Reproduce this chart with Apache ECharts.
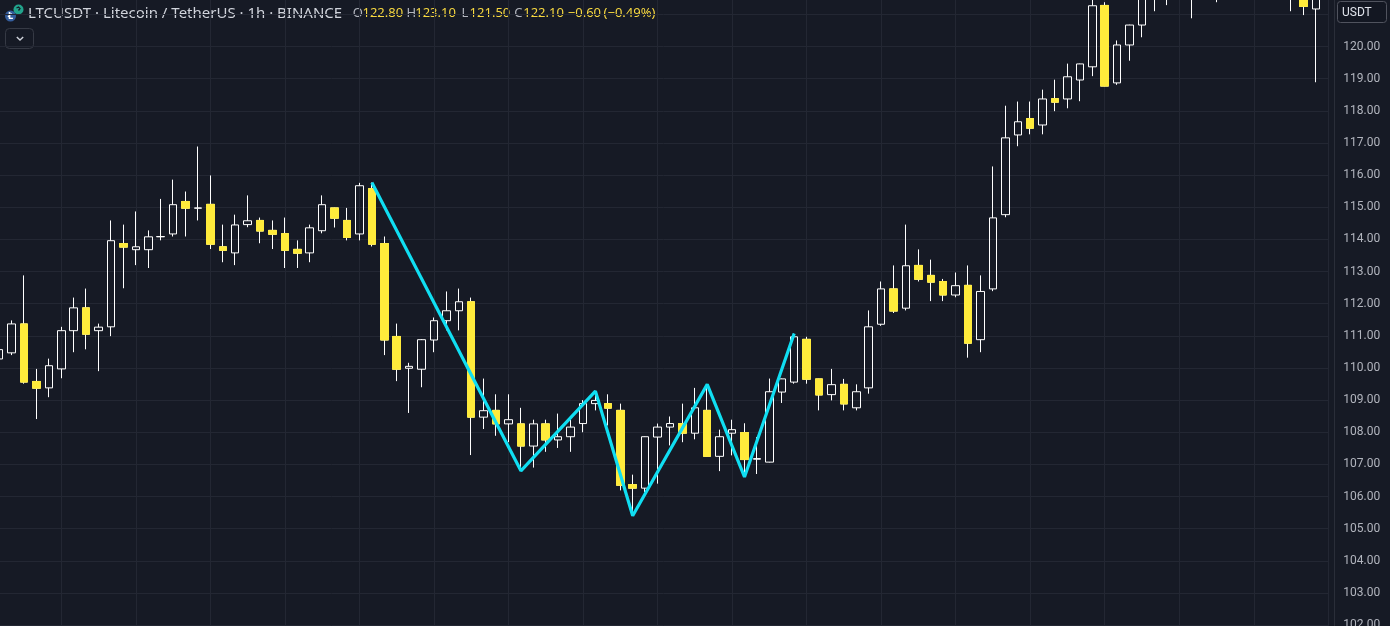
<!DOCTYPE html>
<html>
<head>
<meta charset="utf-8">
<script src="https://cdn.jsdelivr.net/npm/echarts@6/dist/echarts.min.js"></script>
<style>
html,body{margin:0;padding:0;background:#161a25;overflow:hidden}
#chart{width:1390px;height:626px}
</style>
</head>
<body>
<div id="chart"></div>
<script>
// ---- data (LTCUSDT 1h candles) ----
const opens = [
110.28,110.47,111.37,109.58,109.38,109.97,111.16,111.87,111.16,111.28,
113.87,113.68,113.68,114.08,114.17,115.18,114.97,115.09,113.77,113.58,
114.46,114.59,114.28,114.18,113.69,113.58,114.27,114.98,114.59,114.17,
115.58,113.87,110.98,109.99,109.96,110.87,111.47,111.78,112.06,108.47,
108.68,108.26,108.26,107.57,108.26,107.76,107.86,108.27,108.89,108.89,
108.68,106.37,106.26,107.85,108.16,108.27,107.97,108.68,107.25,107.97,
107.99,107.16,107.07,109.25,109.56,110.89,109.66,109.17,109.49,108.76,
109.38,111.36,112.46,111.86,113.19,112.88,112.69,112.27,112.57,110.88,
112.46,114.77,117.25,117.76,117.56,118.38,118.37,118.96,119.37,121.28,
118.87,120.05,120.67,121.80,122.20,121.90,122.30,121.95,122.10,121.80,
122.20,122.40,122.70,122.50,122.20,122.00,121.17];
const highs = [
110.70,111.48,112.88,109.97,110.29,111.28,112.19,112.47,111.38,114.59,
114.46,114.87,114.28,115.26,115.86,115.49,116.89,115.99,114.46,114.77,
115.37,114.68,114.59,114.68,113.97,114.46,115.37,114.99,114.98,115.76,
115.77,114.09,111.38,110.16,110.90,111.57,112.38,112.47,112.19,109.67,
109.18,109.18,108.76,108.39,108.39,108.58,108.39,109.00,109.28,109.18,
108.89,106.68,107.87,108.27,108.49,108.89,109.38,109.49,108.08,108.39,
108.28,107.85,109.67,109.67,111.07,110.97,109.67,109.97,109.66,109.49,
111.79,112.69,113.19,114.46,113.69,113.37,112.77,112.97,113.19,112.88,
116.27,118.16,118.29,118.29,118.66,118.97,119.47,119.47,121.60,121.38,
120.19,120.68,122.00,122.40,122.60,122.50,122.70,122.40,122.60,122.50,
122.80,123.00,123.10,122.90,122.50,122.30,122.40];
const lows = [
110.20,110.40,109.51,108.41,109.09,109.68,110.49,110.58,109.90,110.99,
112.48,113.20,113.11,113.97,114.09,114.09,114.59,113.70,113.29,113.20,
114.38,113.88,113.70,113.11,113.11,113.29,114.19,114.37,113.97,113.97,
113.78,110.40,109.59,108.60,109.40,110.49,111.17,111.17,107.29,108.10,
107.89,107.69,106.80,106.90,107.39,107.51,107.39,108.00,108.68,108.21,
106.19,105.40,106.14,106.40,107.59,107.69,107.78,107.24,106.79,107.28,
106.61,106.70,107.06,108.91,109.51,109.51,108.68,108.99,108.68,108.68,
109.20,111.31,111.71,111.79,112.69,112.08,112.08,112.20,110.32,110.49,
112.39,114.69,116.90,117.27,117.27,117.99,118.08,118.30,119.08,118.76,
118.81,119.56,120.29,121.10,121.29,121.55,120.88,121.60,121.38,121.60,
121.70,121.90,122.00,121.80,121.10,120.98,118.89];
const closes = [
110.57,111.37,109.56,109.37,110.07,111.16,111.87,111.05,111.27,113.96,
113.76,113.77,114.08,114.09,115.08,114.97,114.98,113.85,113.66,114.45,
114.58,114.26,114.16,113.66,113.57,114.36,115.08,114.66,114.06,115.67,
113.85,110.87,109.96,110.05,110.88,111.47,111.78,112.06,108.47,108.67,
108.26,108.39,107.57,108.26,107.76,107.86,108.16,108.89,108.99,108.75,
106.35,106.26,107.86,108.16,108.27,107.97,108.76,107.25,107.86,108.08,
107.15,107.18,109.26,109.66,110.97,109.65,109.16,109.48,108.88,109.26,
111.28,112.46,111.77,113.18,112.76,112.67,112.27,112.56,110.77,112.38,
114.67,117.16,117.66,117.46,118.37,118.27,119.06,119.46,121.27,118.77,
120.05,120.67,121.80,122.20,121.90,122.30,121.95,122.10,121.80,122.20,
122.40,122.70,122.50,122.20,122.00,121.25,122.10];
// zigzag pivots: candle index and whether the pivot is the candle's high or low
const pivotIndex = [30, 42, 48, 51, 57, 60, 64];
const pivotKind  = ['H','L','H','L','H','L','H'];
// price axis ticks (the top label slot is covered by the currency box)
const priceMin = 101, priceMax = 122, priceStep = 1, priceLabelMax = 120;
// one hourly slot per candle, plus one empty slot on the right
const categories = opens.concat([null]).map((_, i) => 'h' + (i + 1));

// ---- build series data ----
const candleData = opens.map((o, i) => [o, closes[i], lows[i], highs[i]]);
const downBodyData = opens.map((o, i) => closes[i] < o ? [o, closes[i], closes[i], o] : ['-','-','-','-']);
const zigzagData = pivotIndex.map((idx, k) => [idx, pivotKind[k] === 'H' ? highs[idx] : lows[idx]]);

const BG = '#161a25', GRID = '#232733', YEL = '#ffeb3b', TXT = '#b2b5be', HDR = '#d1d4dc', VAL = '#f7d840';
const chart = echarts.init(document.getElementById('chart'), null, {renderer: 'canvas'});
const hdrFont = '15px "Noto Sans"';
const valFont = '13px "Noto Sans"';
chart.setOption({
  backgroundColor: BG,
  animation: false,
  grid: {left: -0.8, right: 61.7, top: -17.7, bottom: -31.2, containLabel: false, outerBoundsMode: 'none'},
  xAxis: {
    type: 'category', data: categories, boundaryGap: false,
    axisLine: {show: false}, axisTick: {show: false}, axisLabel: {show: false},
    splitLine: {show: true, interval: (i) => i % 6 === 5, lineStyle: {color: GRID, width: 1}}
  },
  yAxis: {
    type: 'value', position: 'right', offset: 6, min: priceMin, max: priceMax, interval: priceStep,
    axisLine: {show: true, lineStyle: {color: '#2a2e39', width: 1}},
    axisTick: {show: false},
    axisLabel: {color: TXT, fontSize: 12, fontFamily: 'Roboto', margin: 9,
      formatter: (v) => v > priceLabelMax ? '' : v.toFixed(2)},
    splitLine: {show: true, lineStyle: {color: GRID, width: 1}}
  },
  series: [
    {
      type: 'candlestick', data: candleData, barWidth: 8, clip: false,
      itemStyle: {color: 'rgba(0,0,0,0)', color0: YEL, borderColor: '#ffffff', borderColor0: '#ffffff', borderWidth: 1}
    },
    {
      type: 'candlestick', data: downBodyData, barWidth: 8, clip: false,
      itemStyle: {color: YEL, color0: YEL, borderColor: YEL, borderColor0: YEL, borderWidth: 1}
    },
    {
      type: 'line', data: zigzagData, symbol: 'none', z: 5,
      lineStyle: {color: '#10def2', width: 3.2}
    }
  ],
  graphic: [
    {type: 'circle', shape: {cx: 10.5, cy: 16, r: 5.5}, style: {fill: '#345d9d'}},
    {type: 'text', x: 10.5, y: 16.5, style: {text: 'Ł', fill: '#ffffff', font: 'bold 8px "DejaVu Sans"', align: 'center', verticalAlign: 'middle'}},
    {type: 'circle', shape: {cx: 18.5, cy: 9.5, r: 5}, style: {fill: '#22a38c'}},
    {type: 'polyline', shape: {points: [[16.5, 8], [18.5, 7], [20, 8.5], [18.5, 10.5]]}, style: {stroke: '#161a25', lineWidth: 1.3, fill: null}},
    {type: 'text', x: 28, y: 13.5, style: {text: 'LTCUSDT · Litecoin / TetherUS · 1h · BINANCE', fill: HDR, font: hdrFont, verticalAlign: 'middle'}},
    {type: 'text', x: 352.7, y: 13.5, style: {text: 'O', fill: TXT, font: valFont, verticalAlign: 'middle'}},
    {type: 'text', x: 362.5, y: 13.5, style: {text: '122.80', fill: VAL, font: valFont, verticalAlign: 'middle'}},
    {type: 'text', x: 406.5, y: 13.5, style: {text: 'H', fill: TXT, font: valFont, verticalAlign: 'middle'}},
    {type: 'text', x: 415.2, y: 13.5, style: {text: '123.10', fill: VAL, font: valFont, verticalAlign: 'middle'}},
    {type: 'text', x: 461.6, y: 13.5, style: {text: 'L', fill: TXT, font: valFont, verticalAlign: 'middle'}},
    {type: 'text', x: 469.6, y: 13.5, style: {text: '121.50', fill: VAL, font: valFont, verticalAlign: 'middle'}},
    {type: 'text', x: 514.3, y: 13.5, style: {text: 'C', fill: TXT, font: valFont, verticalAlign: 'middle'}},
    {type: 'text', x: 523.2, y: 13.5, style: {text: '122.10', fill: VAL, font: valFont, verticalAlign: 'middle'}},
    {type: 'text', x: 567.8, y: 13.5, style: {text: '−0.60', fill: VAL, font: valFont, verticalAlign: 'middle'}},
    {type: 'text', x: 603.6, y: 13.5, style: {text: '(−0.49%)', fill: VAL, font: valFont, verticalAlign: 'middle'}},
    {type: 'rect', shape: {x: 5.5, y: 28.5, width: 28, height: 20, r: 4}, style: {fill: 'rgba(0,0,0,0)', stroke: '#363a45', lineWidth: 1}},
    {type: 'polyline', shape: {points: [[16.8, 37], [20, 40], [23.2, 37]]}, style: {stroke: '#d1d4dc', lineWidth: 1.4, fill: null}},
    {type: 'rect', shape: {x: 1337.5, y: 1.5, width: 49, height: 21, r: 3}, style: {fill: '#131722', stroke: '#50535e', lineWidth: 1}},
    {type: 'text', x: 1342, y: 12.5, style: {text: 'USDT', fill: '#e0e3eb', font: '12px Roboto', verticalAlign: 'middle'}}
  ]
});
</script>
</body>
</html>
